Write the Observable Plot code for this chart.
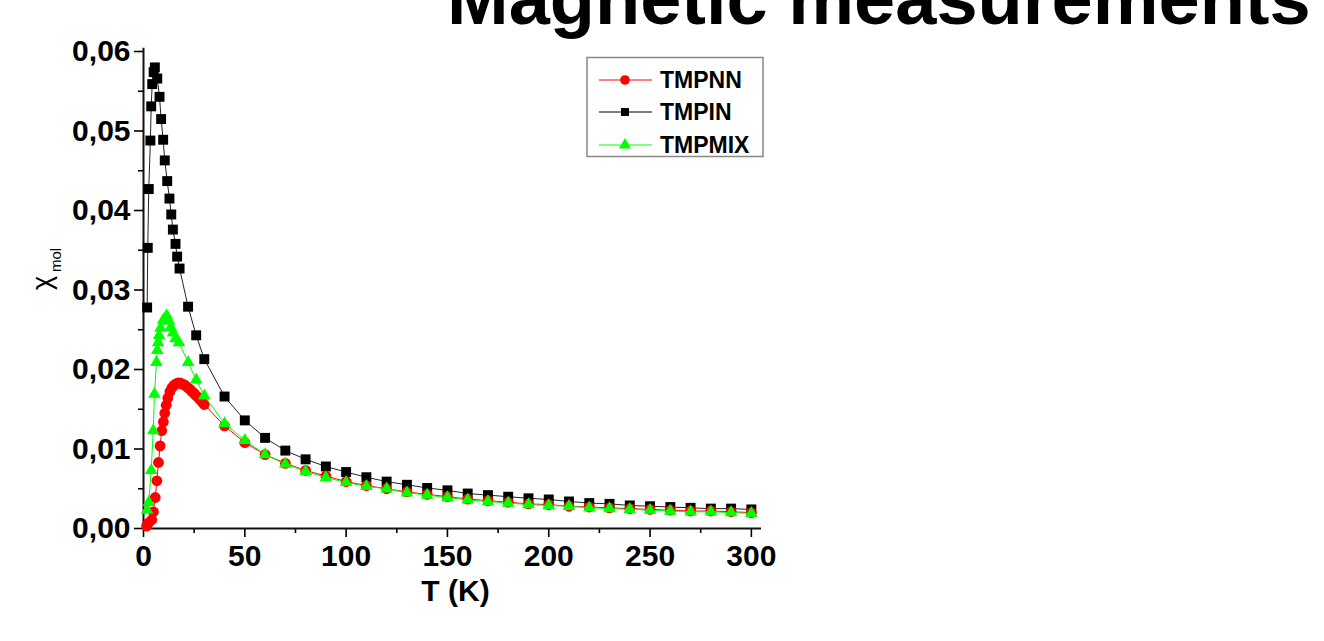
<!DOCTYPE html>
<html>
<head>
<meta charset="utf-8">
<script src="https://cdn.jsdelivr.net/npm/d3@7"></script>
<script src="https://cdn.jsdelivr.net/npm/@observablehq/plot@0.6"></script>
<style>
  html, body { margin: 0; padding: 0; background: #fff; overflow: hidden; }
  #wrap { position: relative; width: 1324px; height: 641px; }
  #title { position: absolute; left: 447px; top: -38px; font: bold 74px/74px "Liberation Sans", Arial, sans-serif; color: #000; white-space: nowrap; margin: 0; }
  #legend { position: absolute; left: 0; top: 0; }
</style>
</head>
<body>
<div id="wrap">
  <div id="chart"></div>
  <h1 id="title">Magnetic measurements</h1>
</div>
<script>
// ---- Data ----
const seriesNames = ["TMPNN", "TMPIN", "TMPMIX"];
const seriesColors = ["#ff0000", "#000000", "#00ff00"];
const seriesSymbols = ["circle", "square", "triangle"];

// TMPNN (red circles)
const tmpnnT = [1.5, 2.5, 4.1, 4.9, 5.8, 6.6, 7.4, 8.2, 9.0, 9.8, 10.5, 11.2, 12, 13, 14, 15, 16, 17, 18, 19, 20, 21, 22, 23, 24, 25, 26, 27, 28, 29, 30,
  40, 50, 60, 70, 80, 90, 100, 110, 120, 130, 140, 150, 160, 170, 180, 190, 200, 210, 220, 230, 240, 250, 260, 270, 280, 290, 300];
const tmpnnChi = [0.0003, 0.0007, 0.0011, 0.0021, 0.0039, 0.0060, 0.0083, 0.0104, 0.0123, 0.0134, 0.0145, 0.0155, 0.0164, 0.0172, 0.0177, 0.0180, 0.0182, 0.0183, 0.0183, 0.0182, 0.0181, 0.0179, 0.0177, 0.0175, 0.0172, 0.0170, 0.0167, 0.0165, 0.0162, 0.0159, 0.0156,
  0.0129, 0.0108, 0.0093, 0.0082, 0.0073, 0.0066, 0.0059, 0.0054, 0.0050, 0.0046, 0.0043, 0.0040, 0.0037, 0.0035, 0.0033, 0.0031, 0.0030, 0.0028, 0.0027, 0.0026, 0.0025, 0.0024, 0.0023, 0.0022, 0.0022, 0.0021, 0.0020];

// TMPIN (black squares)
const tmpinT = [1.8, 2.1, 2.6, 3.4, 3.8, 4.3, 5.0, 5.6, 6.8, 7.9, 8.7, 9.7, 10.5, 11.7, 12.8, 13.7, 14.5, 15.8, 16.6, 17.8, 22, 26, 30,
  40, 50, 60, 70, 80, 90, 100, 110, 120, 130, 140, 150, 160, 170, 180, 190, 200, 210, 220, 230, 240, 250, 260, 270, 280, 290, 300];
const tmpinChi = [0.0278, 0.0353, 0.0427, 0.0488, 0.0531, 0.0559, 0.0574, 0.0580, 0.0566, 0.0543, 0.0515, 0.0489, 0.0463, 0.0437, 0.0415, 0.0395, 0.0376, 0.0358, 0.0342, 0.0327, 0.0279, 0.0243, 0.0213,
  0.0166, 0.0136, 0.0114, 0.0098, 0.0087, 0.0078, 0.0071, 0.00645, 0.0059, 0.0055, 0.0051, 0.0048, 0.0044, 0.0042, 0.0040, 0.0038, 0.00365, 0.0034, 0.0032, 0.0031, 0.0029, 0.0028, 0.0027, 0.0026, 0.0025, 0.0025, 0.0024];

// TMPMIX (green triangles)
const tmpmixT = [1.8, 2.6, 3.8, 4.8, 5.4, 6.4, 6.8, 7.2, 7.7, 8.4, 9.7, 11.4, 12.6, 13.5, 14.6, 15.8, 17.5, 22, 26, 30,
  40, 50, 60, 70, 80, 90, 100, 110, 120, 130, 140, 150, 160, 170, 180, 190, 200, 210, 220, 230, 240, 250, 260, 270, 280, 290, 300];
const tmpmixChi = [0.0023, 0.0033, 0.0073, 0.0123, 0.0169, 0.0209, 0.0224, 0.0234, 0.0243, 0.0252, 0.0262, 0.0268, 0.0261, 0.0253, 0.0246, 0.0239, 0.0234, 0.0209, 0.0187, 0.0167,
  0.0132, 0.0111, 0.0093, 0.0081, 0.0072, 0.0064, 0.0058, 0.0053, 0.0050, 0.0045, 0.0042, 0.0039, 0.0036, 0.0034, 0.0032, 0.0030, 0.0029, 0.0028, 0.0026, 0.0025, 0.0024, 0.0023, 0.0022, 0.0021, 0.0021, 0.0020, 0.0019];

const xMajorTicks = [0, 50, 100, 150, 200, 250, 300];
const xMinorTicks = [25, 75, 125, 175, 225, 275];
const yMajorTicks = [0, 0.01, 0.02, 0.03, 0.04, 0.05, 0.06];
const yMinorTicks = [0.005, 0.015, 0.025, 0.035, 0.045, 0.055];
const xLabel = "T (K)";

// ---- Build tables ----
const toRows = (name, T, chi) => T.map((t, i) => ({series: name, T: t, chi: chi[i]}));
const rowsNN = toRows("TMPNN", tmpnnT, tmpnnChi);
const rowsIN = toRows("TMPIN", tmpinT, tmpinChi);
const rowsMIX = toRows("TMPMIX", tmpmixT, tmpmixChi);

const fmtY = d => d3.format(".2f")(d).replace(".", ",");
const FONT = "'Liberation Sans', Arial, Helvetica, sans-serif";

const chart = Plot.plot({
  width: 1324,
  height: 641,
  marginLeft: 143,
  marginRight: 563,
  marginTop: 51,
  marginBottom: 113,
  style: {fontFamily: FONT, background: "transparent", overflow: "visible", color: "#000"},
  x: {domain: [0, 305], label: null},
  y: {domain: [0, 0.06], label: null},
  marks: [
    Plot.axisY({ticks: yMinorTicks, tickSize: 5, tickFormat: () => "", label: null, strokeWidth: 1.6}),
    Plot.axisY({ticks: yMajorTicks, tickSize: 9, tickPadding: 4, tickFormat: fmtY, label: null, fontSize: 30, fontWeight: "bold", strokeWidth: 1.6}),
    Plot.axisX({ticks: xMinorTicks, tickSize: 5, tickFormat: () => "", label: null, strokeWidth: 1.6}),
    Plot.axisX({ticks: xMajorTicks, tickSize: 9, tickPadding: 7, tickFormat: d => String(d), label: null, fontSize: 30, fontWeight: "bold", strokeWidth: 1.6}),
    Plot.ruleX([0], {y1: 0, y2: 0.0604, stroke: "#111", strokeWidth: 2}),
    Plot.ruleY([0], {x1: 0, x2: 305, stroke: "#111", strokeWidth: 2}),
    // TMPIN
    Plot.line(rowsIN, {x: "T", y: "chi", stroke: "#222", strokeWidth: 1}),
    Plot.dot(rowsIN, {x: "T", y: "chi", symbol: "square", r: 5.6, fill: "#000", stroke: "none"}),
    // TMPNN
    Plot.line(rowsNN, {x: "T", y: "chi", stroke: "#ff0000", strokeWidth: 1}),
    Plot.dot(rowsNN, {x: "T", y: "chi", symbol: "circle", r: 5.4, fill: "#ff0000", stroke: "none"}),
    // TMPMIX
    Plot.line(rowsMIX, {x: "T", y: "chi", stroke: "#00ff00", strokeWidth: 1}),
    Plot.dot(rowsMIX, {x: "T", y: "chi", symbol: "triangle", r: 4.7, fill: "#00ff00", stroke: "none"}),
    Plot.text([xLabel], {frameAnchor: "bottom", lineAnchor: "middle", dx: 3, dy: 63, fontSize: 30, fontWeight: "bold", fill: "#000"})
  ]
});
document.getElementById("chart").append(chart);

// y-axis label with subscript
const svg = d3.select(chart.tagName.toLowerCase() === "svg" ? chart : chart.querySelector("svg"));
const ylab = svg.append("text")
  .attr("transform", "translate(51,283) rotate(-90)")
  .attr("font-family", FONT)
  .attr("fill", "#000");
ylab.append("tspan").attr("x", 0).attr("y", 0).attr("font-size", 27).text("χ");
ylab.append("tspan").attr("x", 23).attr("y", 10).attr("font-size", 15).text("mol");

// legend
const lg = d3.select("#wrap").append("svg")
  .attr("id", "legend")
  .attr("width", 1324).attr("height", 200);
lg.append("rect").attr("x", 587).attr("y", 57.5).attr("width", 176).attr("height", 99)
  .attr("fill", "#fff").attr("stroke", "#888").attr("stroke-width", 1.5);
const rowY = [80, 112, 145];
seriesNames.forEach((name, i) => {
  const g = lg.append("g");
  g.append("line").attr("x1", 599).attr("x2", 652).attr("y1", rowY[i]).attr("y2", rowY[i])
    .attr("stroke", seriesColors[i]).attr("stroke-width", 1);
  const symType = {circle: d3.symbolCircle, square: d3.symbolSquare, triangle: d3.symbolTriangle}[seriesSymbols[i]];
  const rr = [4.8, 4.5, 4.5][i];
  g.append("path").attr("d", d3.symbol(symType, Math.PI * rr * rr)())
    .attr("transform", `translate(625,${rowY[i]})`).attr("fill", seriesColors[i]);
  g.append("text").attr("x", 660).attr("y", rowY[i]).attr("dy", "0.35em")
    .attr("font-family", FONT).attr("font-weight", "bold").attr("font-size", 23)
    .attr("fill", "#000").text(name);
});
</script>
</body>
</html>
